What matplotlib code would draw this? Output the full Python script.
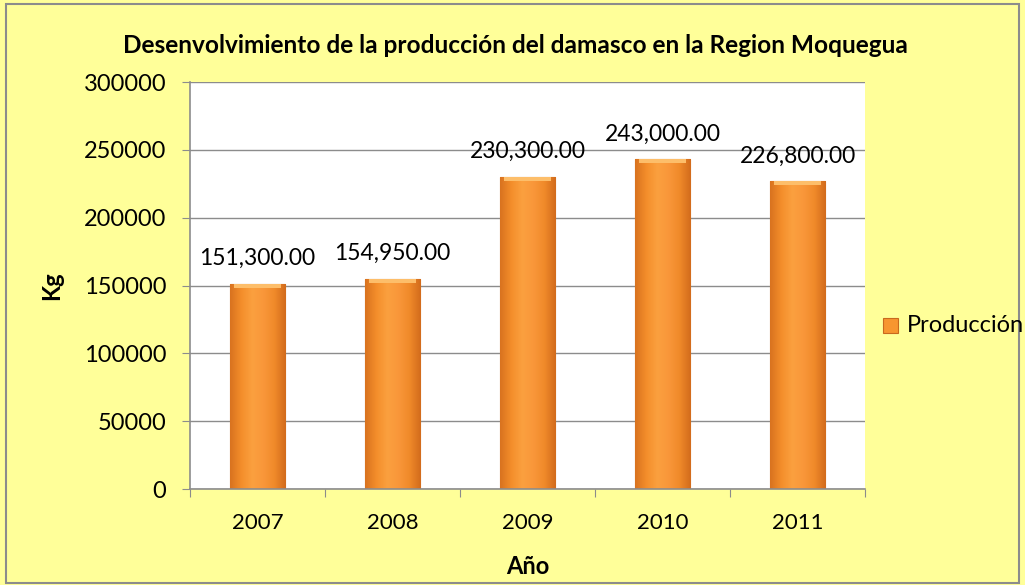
import numpy as np
import matplotlib.pyplot as plt
from matplotlib.patches import Rectangle
from matplotlib.colors import LinearSegmentedColormap

years = ["2007", "2008", "2009", "2010", "2011"]
produccion = [151300, 154950, 230300, 243000, 226800]
yticks = [0, 50000, 100000, 150000, 200000, 250000, 300000]

plt.rcParams['font.family'] = ['Lato', 'DejaVu Sans']

bg = '#FFFF99'
fig = plt.figure(figsize=(10.25, 5.85), dpi=100, facecolor=bg)
fig.patches.append(Rectangle((0.006, 0.004), 0.988, 0.99, transform=fig.transFigure,
                             fill=False, edgecolor='#8c8c8c', lw=1.5))
ax = fig.add_axes([0.1854, 0.1641, 0.6585, 0.6957])
ax.set_facecolor('white')

x = np.arange(len(years))
bars = ax.bar(x, produccion, width=0.41, color='#F7962F', edgecolor='#C8691E',
              linewidth=0.8, zorder=2)

# shading like the rounded excel bars
cmap = LinearSegmentedColormap.from_list('bar', ['#D9731F', '#F48E2B', '#FBA03F',
                                                 '#F9973A', '#F08A2A', '#D36C1C'])
grad = np.linspace(0, 1, 64).reshape(1, -1)
for b in bars:
    x0, w, h = b.get_x(), b.get_width(), b.get_height()
    im = ax.imshow(grad, cmap=cmap, aspect='auto', extent=(x0, x0 + w, 0, h),
                   zorder=2.5)
    im.set_clip_path(b)
    ax.add_patch(Rectangle((x0 + w * 0.08, h - 3000), w * 0.84, 3000,
                           color='#FDBE6A', lw=0, zorder=2.6))
    ax.text(x0 + w / 2, h + 11000, f"{h:,.2f}", ha='center', va='bottom',
            fontsize=16.5, zorder=4)

ax.set_xlim(-0.5, 4.5)
ax.set_ylim(0, 300000)
ax.set_yticks(yticks)
ax.set_yticklabels([str(v) for v in yticks], fontsize=17)
ax.set_xticks(np.arange(-0.5, 5, 1))
ax.set_xticklabels([])
ax.set_xticks(x, minor=True)
ax.set_xticklabels(years, minor=True, fontsize=16)
ax.tick_params(axis='x', which='minor', length=0, pad=17)
ax.tick_params(axis='x', which='major', length=6, color='#8c8c8c')
ax.tick_params(axis='y', length=6, color='#8c8c8c', pad=11)
ax.yaxis.grid(True, color='#8c8c8c', lw=1)
ax.set_axisbelow(True)
for s in ['top', 'right']:
    ax.spines[s].set_visible(False)
for s in ['left', 'bottom']:
    ax.spines[s].set_color('#8c8c8c')
    ax.spines[s].set_linewidth(1.2)

ax.set_xlabel('Año', fontsize=17, fontweight='bold', labelpad=16)
ax.set_ylabel('Kg', fontsize=17, fontweight='bold', labelpad=15)
fig.text(0.503, 0.922, 'Desenvolvimiento de la producción del damasco en la Region Moquegua',
         ha='center', va='center', fontsize=17.6, fontweight='bold')

# legend
fig.patches.append(Rectangle((0.8615, 0.4308), 0.0146, 0.0256, transform=fig.transFigure,
                             facecolor='#F7962F', edgecolor='#C8691E', lw=0.8))
fig.text(0.885, 0.4444, 'Producción', ha='left', va='center', fontsize=17)

fig.savefig('out.png', dpi=100, facecolor=bg)
